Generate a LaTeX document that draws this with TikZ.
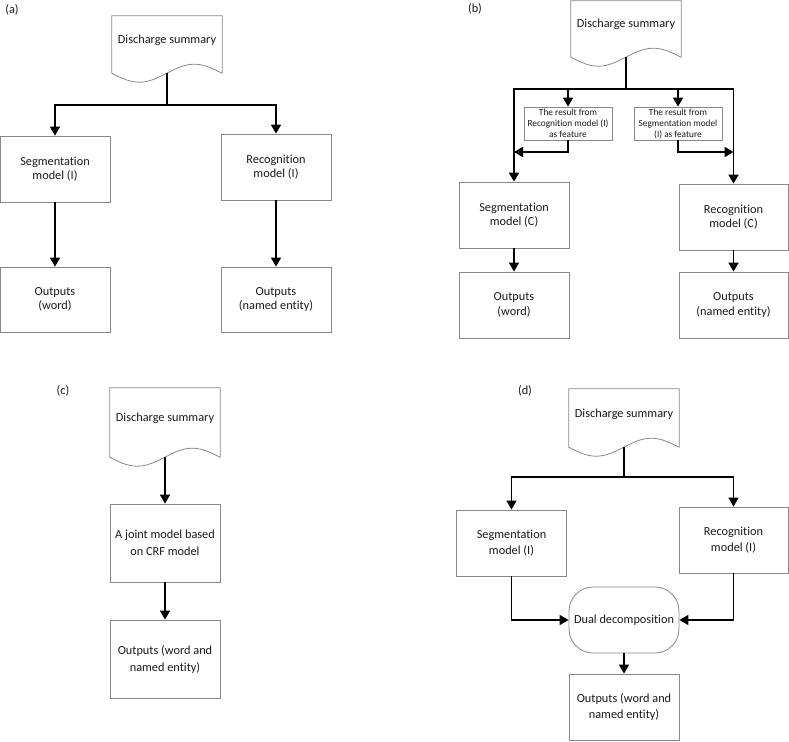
\documentclass[tikz,border=0pt]{standalone}
\usepackage{fontspec}
\setmainfont{Carlito}[Ligatures=NoCommon]
\usetikzlibrary{arrows.meta,calc}
\definecolor{boxgray}{RGB}{135,135,135}
\tikzset{
  every node/.style={text=black!90},
  txt/.style={font=\fontsize{12.3}{14.7}\selectfont},
  box/.style={txt, draw=boxgray, line width=0.8pt, minimum width=110pt, minimum height=66pt, inner sep=0pt, align=center},
  docnode/.style={txt, minimum width=110pt, inner sep=0pt, text height=8pt, text depth=10pt},
  feat/.style={box, minimum width=88pt, minimum height=33pt, font=\fontsize{9.3}{11}\selectfont},
  dualbox/.style={box, rounded corners=24pt},
  conn/.style={line width=1.6pt, -{Triangle[width=10pt,length=9pt]}},
  outline/.style={draw=boxgray, line width=0.8pt},
  panel/.style={txt, inner sep=0pt},
}
\newcommand\docout[1]{\draw[outline] (#1.south east) -- (#1.north east) -- (#1.north west) -- (#1.south west) sin ++(27.5,9) cos ++(27.5,-9) sin ++(27.5,-9) cos ++(27.5,9) -- cycle;}
\begin{document}
\begin{tikzpicture}[x=1pt,y=-1pt]
\useasboundingbox (0,0) rectangle (789,741);

% ---------- (a)
\node[panel] (la) at (12,10) {(a)};
\node[docnode, minimum height=57pt] (docA) at (167,44.5) {Discharge summary};
\docout{docA}
\coordinate (jA) at (167,105);
\node[box] (segA) at (55,169) {Segmentation\\model (I)};
\node[box] (recA) at (276,167) {Recognition\\model (I)};
\node[box, minimum height=65pt] (owA) at (55,299.5) {Outputs\\(word)};
\node[box, minimum height=65pt] (onA) at (276,299.5) {Outputs\\(named entity)};
\draw[conn] (docA.south) -- (jA) -| (segA.north);
\draw[conn] (jA) -| (recA.north);
\draw[conn] (segA.south) -- (owA.north);
\draw[conn] (recA.south) -- (onA.north);

% ---------- (b)
\node[panel] (lb) at (475,9) {(b)};
\node[docnode, minimum height=56pt] (docB) at (626,29) {Discharge summary};
\docout{docB}
\coordinate (jB) at (626,89);
\coordinate (mB) at (626,152);
\node[feat] (featR) at (568,123.5) {The result from\\Recognition model (I)\\as feature};
\node[feat] (featS) at (678,123.5) {The result from\\Segmentation model\\(I) as feature};
\node[box] (segB) at (514,215) {Segmentation\\model (C)};
\node[box, minimum width=109pt] (recB) at (733.5,217) {Recognition\\model (C)};
\node[box] (owB) at (514,305) {Outputs\\(word)};
\node[box, minimum width=109pt] (onB) at (733.5,305) {Outputs\\(named entity)};
\draw[conn] (docB.south) -- (jB) -| (segB.north);
\draw[conn] (jB) -| (recB.north);
\draw[conn] (featR.north |- jB) -- (featR.north);
\draw[conn] (featS.north |- jB) -- (featS.north);
\draw[conn] (featR.south) |- (segB.north |- mB);
\draw[conn] (featS.south) |- (recB.north |- mB);
\draw[conn] (segB.south) -- (owB.north);
\draw[conn] (recB.south) -- (onB.north);

% ---------- (c)
\node[panel] (lc) at (63,391) {(c)};
\node[docnode, minimum height=69pt] (docC) at (165,422.5) {Discharge summary};
\docout{docC}
\node[box, minimum height=78pt, font=\fontsize{12.3}{17}\selectfont] (joint) at (165,543) {A joint model based\\on CRF model};
\node[box, minimum height=78pt, font=\fontsize{12.3}{17}\selectfont] (oC) at (165,659) {Outputs (word and\\named entity)};
\draw[conn] (docC.south) -- (joint.north);
\draw[conn] (joint.south) -- (oC.north);

% ---------- (d)
\node[panel] (ld) at (525,391) {(d)};
\node[docnode, minimum height=58pt] (docD) at (624,418) {Discharge summary};
\docout{docD}
\coordinate (jD) at (624,477);
\node[box, font=\fontsize{12.3}{15.7}\selectfont] (segD) at (511.5,543) {Segmentation\\model (I)};
\node[box, minimum width=109pt, font=\fontsize{12.3}{15.7}\selectfont] (recD) at (733.5,540) {Recognition\\model (I)};
\node[dualbox] (dual) at (624,620) {Dual decomposition};
\node[box, font=\fontsize{12.3}{15.7}\selectfont] (oD) at (624,707) {Outputs (word and\\named entity)};
\draw[conn] (docD.south) -- (jD) -| (segD.north);
\draw[conn] (jD) -| (recD.north);
\draw[conn] (segD.south) |- (dual.west);
\draw[conn] (recD.south) |- (dual.east);
\draw[conn] (dual.south) -- (oD.north);
\end{tikzpicture}
\end{document}
